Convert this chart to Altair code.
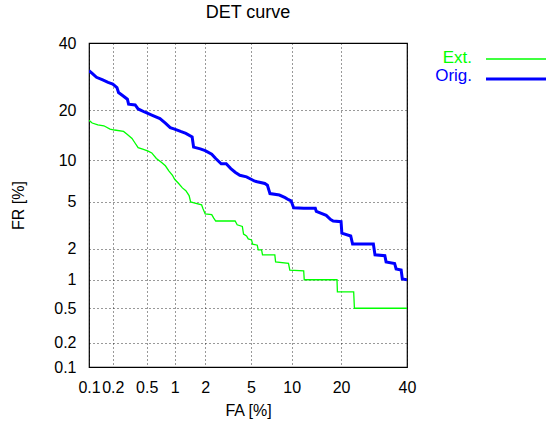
import altair as alt
import pandas as pd
from statistics import NormalDist

# ---- data (percent values) ----
orig_fa = [0.1, 0.11, 0.125, 0.15, 0.175, 0.2, 0.225, 0.235, 0.27, 0.3, 0.31, 0.37, 0.4, 0.48, 0.57,
           0.7, 0.8, 0.9, 1.0, 1.15, 1.3, 1.5, 1.55, 1.8, 2.0, 2.3, 2.5, 2.8, 3.1, 3.4, 3.7, 4.05,
           4.6, 5.1, 5.3, 5.6, 6.4, 6.7, 7.0, 8.2, 9.0, 9.5, 9.9, 10.3, 12.0, 14.2, 14.4, 16.5, 17.5,
           18.1, 20.0, 20.2, 22.5, 23.0, 29.0, 29.5, 32.6, 33.0, 35.8, 36.3, 38.0, 38.4, 40.0]
orig_fr = [31.0, 30.2, 29.0, 28.2, 27.5, 27.0, 26.0, 24.6, 23.6, 22.8, 21.5, 21.3, 20.3, 19.5, 18.8,
           18.0, 17.0, 16.0, 15.7, 15.2, 14.8, 14.1, 12.2, 11.9, 11.6, 11.0, 10.3, 9.5, 9.5, 8.8, 8.3, 7.9,
           7.7, 7.35, 7.2, 7.1, 6.9, 6.7, 5.8, 5.65, 5.4, 5.2, 5.1, 4.5, 4.45, 4.45, 4.2, 3.9, 3.6,
           3.5, 3.45, 2.75, 2.6, 2.2, 2.2, 1.75, 1.72, 1.5, 1.45, 1.28, 1.25, 1.02, 1.0]

ext_fa = [0.1, 0.11, 0.13, 0.155, 0.185, 0.21, 0.27, 0.3, 0.34, 0.37, 0.4, 0.46, 0.52, 0.57, 0.64,
          0.73, 0.8, 0.87, 0.95, 1.0, 1.1, 1.2, 1.3, 1.4, 1.45, 1.6, 1.85, 1.9, 2.0, 2.3, 2.4, 2.5,
          3.7, 3.85, 4.25, 4.35, 4.6, 4.75, 5.05, 5.15, 5.6, 5.7, 6.05, 6.15, 7.6, 7.7, 9.5, 9.7,
          12.0, 12.1, 19.0, 19.1, 23.3, 23.5, 40.0]
ext_fr = [17.6, 17.0, 16.6, 16.4, 15.7, 15.5, 15.2, 14.6, 13.8, 12.9, 12.1, 11.8, 11.5, 11.2, 10.3,
          9.7, 9.2, 8.5, 7.9, 7.4, 6.9, 6.4, 6.1, 5.6, 5.0, 4.9, 4.75, 4.45, 4.0, 3.95, 3.7, 3.5,
          3.5, 3.25, 3.15, 2.7, 2.6, 2.45, 2.4, 2.2, 2.15, 1.95, 1.95, 1.75, 1.75, 1.5, 1.45, 1.25,
          1.23, 1.0, 1.0, 0.75, 0.75, 0.5, 0.5]

tick_pct = [0.1, 0.2, 0.5, 1, 2, 5, 10, 20, 40]
series_names = ["Ext.", "Orig."]
series_colors = ["#00ff00", "#0000ff"]

nd = NormalDist()


def probit(pct):
    return nd.inv_cdf(pct / 100.0)


rows = []
for name, fa_list, fr_list in [("Ext.", ext_fa, ext_fr), ("Orig.", orig_fa, orig_fr)]:
    for i, (fa, fr) in enumerate(zip(fa_list, fr_list)):
        rows.append({"series": name, "fa": fa, "fr": fr,
                     "px": probit(fa), "py": probit(fr), "idx": i})
df = pd.DataFrame(rows)

ticks = [probit(t) for t in tick_pct]
lo, hi = probit(tick_pct[0]), probit(tick_pct[-1])
label_expr = "toString(round(cumulativeNormal(datum.value) * 1000) / 10)"

FONT = "Liberation Sans"

x_enc = alt.X("px:Q", scale=alt.Scale(domain=[lo, hi], nice=False, zero=False),
              axis=alt.Axis(values=ticks, labelExpr=label_expr, title="FA [%]",
                            grid=True, ticks=False, domain=False,
                            labelOverlap=False, labelFlush=False,
                            labelPadding=12, titlePadding=7))
y_enc = alt.Y("py:Q", scale=alt.Scale(domain=[lo, hi], nice=False, zero=False),
              axis=alt.Axis(values=ticks, labelExpr=label_expr, title="FR [%]",
                            grid=True, ticks=False, domain=False,
                            labelOverlap=False, labelFlush=False,
                            labelPadding=13, titlePadding=27))

base = alt.Chart(df)

ext_line = base.transform_filter(alt.datum.series == "Ext.").mark_line(
    color=series_colors[0], strokeWidth=1.3, clip=True
).encode(x=x_enc, y=y_enc, order="idx:Q")

orig_line = base.transform_filter(alt.datum.series == "Orig.").mark_line(
    color=series_colors[1], strokeWidth=3, clip=True
).encode(x=x_enc, y=y_enc, order="idx:Q")

# legend (gnuplot style: label on the left, line sample on the right)
leg_ext = pd.DataFrame({"series": [series_names[0]]})
leg_orig = pd.DataFrame({"series": [series_names[1]]})

ext_text = alt.Chart(leg_ext).mark_text(
    align="right", baseline="middle", font=FONT, fontSize=17, color=series_colors[0]
).encode(text="series:N", x=alt.value(383), y=alt.value(15))
orig_text = alt.Chart(leg_orig).mark_text(
    align="right", baseline="middle", font=FONT, fontSize=17, color=series_colors[1]
).encode(text="series:N", x=alt.value(383), y=alt.value(33))
ext_sample = alt.Chart(leg_ext).mark_rule(color=series_colors[0], strokeWidth=1.3).encode(
    x=alt.value(397), x2=alt.value(460), y=alt.value(16))
orig_sample = alt.Chart(leg_orig).mark_rule(color=series_colors[1], strokeWidth=3).encode(
    x=alt.value(397), x2=alt.value(460), y=alt.value(36))

chart = alt.layer(ext_line, orig_line, ext_text, orig_text, ext_sample, orig_sample).properties(
    width=318, height=324,
    background="white",
    title=alt.TitleParams("DET curve", font=FONT, fontSize=18, fontWeight="normal",
                          color="black", anchor="middle", offset=13),
    autosize=alt.AutoSizeParams(type="none"),
    padding={"left": 89, "top": 43, "right": 139, "bottom": 62},
).configure_axis(
    labelFont=FONT, labelFontSize=16, labelColor="black",
    titleFont=FONT, titleFontSize=16, titleFontWeight="normal", titleColor="black",
    gridColor="#000000", gridDash=[1, 3], gridOpacity=0.8, gridWidth=1,
).configure_view(
    stroke="black", strokeWidth=1.2
)

chart.save("out.html", embed_options={"renderer": "svg", "actions": False})
